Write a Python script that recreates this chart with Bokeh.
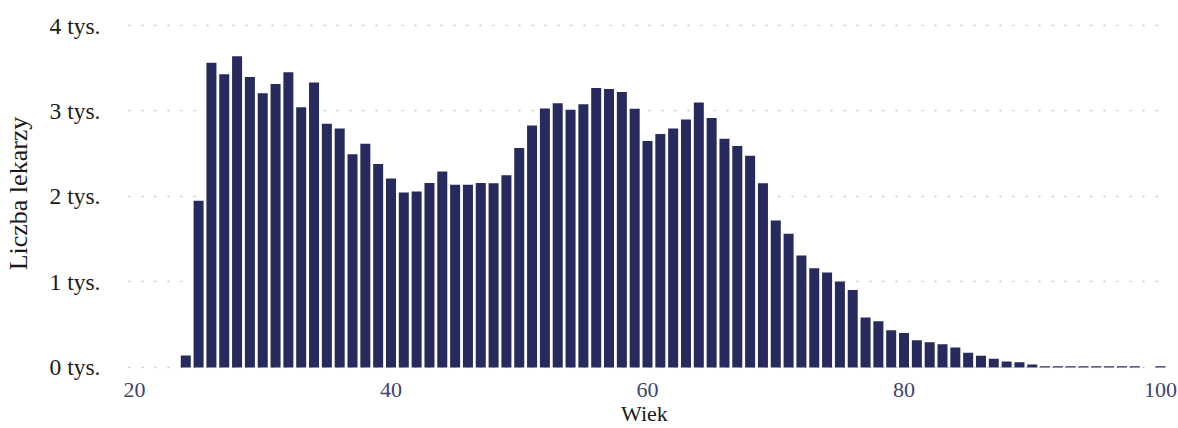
from bokeh.plotting import figure
from bokeh.models import ColumnDataSource, FixedTicker, Range1d
from bokeh.embed import file_html
from bokeh.resources import INLINE

ages = [24, 25, 26, 27, 28, 29, 30, 31, 32, 33, 34, 35, 36, 37, 38, 39, 40,
        41, 42, 43, 44, 45, 46, 47, 48, 49, 50, 51, 52, 53, 54, 55, 56, 57,
        58, 59, 60, 61, 62, 63, 64, 65, 66, 67, 68, 69, 70, 71, 72, 73, 74,
        75, 76, 77, 78, 79, 80, 81, 82, 83, 84, 85, 86, 87, 88, 89, 90, 91,
        92, 93, 94, 95, 96, 97, 98, 100]
counts = [140, 1950, 3565, 3429, 3639, 3398, 3208, 3317, 3452, 3045, 3332,
          2850, 2796, 2493, 2617, 2381, 2210, 2047, 2058, 2159, 2291, 2136,
          2136, 2159, 2155, 2249, 2567, 2831, 3029, 3091, 3014, 3080, 3270,
          3258, 3223, 3025, 2649, 2730, 2796, 2901, 3099, 2917, 2676, 2590,
          2478, 2155, 1720, 1565, 1310, 1160, 1112, 1006, 905, 586, 540, 435,
          404, 318, 295, 272, 233, 171, 136, 101, 70, 62, 35, 15, 15, 15, 15,
          15, 15, 15, 15, 15]

y_ticks = [0, 1000, 2000, 3000, 4000]
y_labels = ["0 tys.", "1 tys.", "2 tys.", "3 tys.", "4 tys."]
x_ticks = [20, 40, 60, 80, 100]

FONT = "Liberation Serif"

src = ColumnDataSource(data=dict(age=ages, count=counts))

p = figure(width=1178, height=428, output_backend="svg", toolbar_location=None,
           x_range=Range1d(18.911, 100.62), y_range=Range1d(-47, 4117),
           min_border_left=118, min_border_right=10, min_border_top=15,
           min_border_bottom=56)

p.vbar(x="age", top="count", bottom=0, width=0.78, source=src,
       fill_color="#272a5c", line_color=None)

p.outline_line_color = None
p.background_fill_color = "white"
p.border_fill_color = "white"

p.xgrid.grid_line_color = None
p.ygrid.grid_line_color = "#c8c8c8"
p.ygrid.grid_line_dash = "2 11"
p.ygrid.grid_line_dash_offset = 5
p.ygrid.grid_line_width = 1.5
p.ygrid.ticker = FixedTicker(ticks=y_ticks)

p.yaxis.ticker = FixedTicker(ticks=y_ticks)
p.yaxis.major_label_overrides = {t: l for t, l in zip(y_ticks, y_labels)}
p.xaxis.ticker = FixedTicker(ticks=x_ticks)

for ax in (p.xaxis, p.yaxis):
    ax.axis_line_color = None
    ax.major_tick_line_color = None
    ax.minor_tick_line_color = None
    ax.major_label_text_font = FONT
    ax.axis_label_text_font = FONT
    ax.axis_label_text_font_style = "normal"
    ax.axis_label_text_color = "#1a1a1a"

p.xaxis.major_label_text_font_size = "22px"
p.xaxis.axis_label_text_font_size = "22px"
p.yaxis.major_label_text_font_size = "23.5px"
p.yaxis.axis_label_text_font_size = "26px"

p.xaxis.major_label_text_color = "#3f4272"
p.yaxis.major_label_text_color = "#1a1a1a"
p.xaxis.axis_label = "Wiek"
p.yaxis.axis_label = "Liczba lekarzy"
p.xaxis.major_label_standoff = 5
p.xaxis.axis_label_standoff = 1
p.yaxis.major_label_standoff = 14
p.yaxis.axis_label_standoff = 14

open("out.html", "w").write(file_html(p, INLINE))
